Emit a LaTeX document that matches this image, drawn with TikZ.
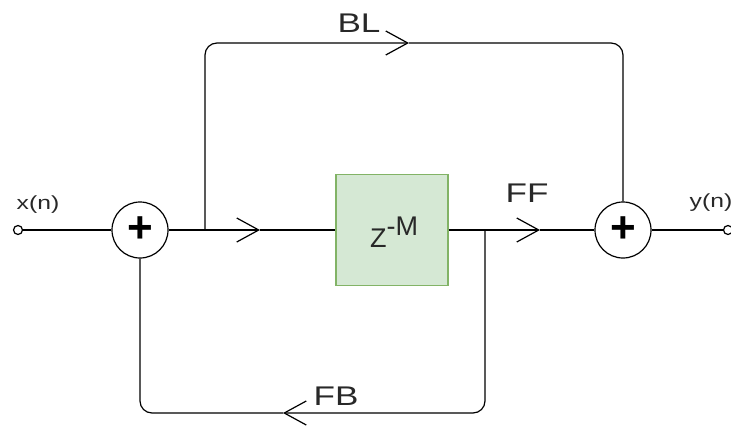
\documentclass[tikz,border=0pt]{standalone}
\usepackage{fontspec}
\setmainfont{Liberation Sans}
\usepackage{graphicx}
\usetikzlibrary{arrows.meta,positioning}
\definecolor{delayfill}{RGB}{213,232,212}
\definecolor{delayline}{RGB}{130,179,102}
\definecolor{labelgray}{RGB}{40,40,40}
\newcommand{\widetext}[1]{\scalebox{1.3}[1]{#1}}

\begin{document}
\begin{tikzpicture}[
    x=1pt, y=-1pt,
    wire/.style={line width=1.2pt, black, rounded corners=12pt},
    chev/.style={-{Straight Barb[length=22pt, width=24pt, line width=1.2pt]}},
    adder/.style={draw, circle, line width=1.2pt, minimum size=56pt, inner sep=0pt, font=\fontsize{44}{44}\selectfont\bfseries},
    delaybox/.style={draw=delayline, fill=delayfill, line width=1.2pt, minimum width=112pt, minimum height=111pt},
    port/.style={draw, circle, line width=1.2pt, minimum size=9pt, inner sep=0pt, fill=white},
    lbl/.style={text=labelgray, inner sep=0pt, font=\fontsize{27}{30}\selectfont},
    small/.style={text=labelgray, inner sep=0pt, font=\fontsize{19}{21}\selectfont}
  ]
    \useasboundingbox (0,0) rectangle (731,428);

    \node[adder] (add1) at (140,230) {+};
    \node[adder] (add2) at (623,230) {+};
    \node[delaybox] (delay) at (392,230) {};
    \node[lbl] (zm) at (394,232) {Z\raisebox{12pt}{-M}};

    \coordinate (split) at (205,230);
    \coordinate (tap) at (485,230);
    \coordinate (intip) at (260,230);
    \coordinate (bltip) at (409,43);
    \coordinate (fftip) at (540,230);
    \coordinate (fbtip) at (283,413);

    % signal path
    \draw[wire] (add1) -- (split);
    \draw[wire, chev] (split) -- (intip);
    \draw[wire] (intip) -- (delay);
    \draw[wire, chev] (delay) -- (fftip);
    \draw[wire] (fftip) -- (add2);

    % bypass and feedback
    \draw[wire, chev] (split) |- (bltip);
    \draw[wire] (bltip) -| (add2);
    \draw[wire, chev] (tap) |- (fbtip);
    \draw[wire] (fbtip) -| (add1);

    \node[port] (xin) at (18,230) {};
    \node[port] (yout) at (728,230) {};
    \draw[wire] (xin) -- (add1);
    \draw[wire] (add2) -- (yout);

    \node[small] (xlbl) at (38,205) {\widetext{x(n)}};
    \node[small] (ylbl) at (711,203) {\widetext{y(n)}};
    \node[lbl] (bl) at (359,23) {\widetext{BL}};
    \node[lbl] (ff) at (527,193) {\widetext{FF}};
    \node[lbl] (fb) at (336,396) {\widetext{FB}};
\end{tikzpicture}
\end{document}
